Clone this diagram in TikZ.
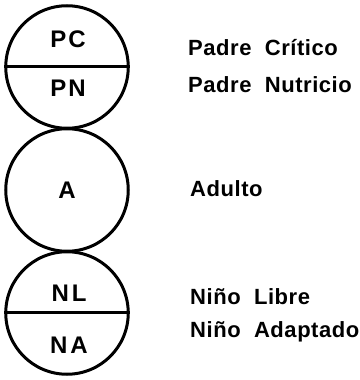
\documentclass[tikz,border=0pt]{standalone}
\usepackage{fontspec}
\setmainfont{Liberation Sans}[LetterSpace=2.5]
\usepackage{tikz}

\begin{document}
\begin{tikzpicture}[x=1pt,y=1pt,
    ring/.style={circle,draw,line width=3pt,minimum size=122.5pt,inner sep=0pt},
    tag/.style={anchor=base,font=\fontsize{24}{28}\selectfont\bfseries,inner sep=0pt},
    legend/.style={anchor=base west,font=\fontsize{22}{26}\selectfont\bfseries,inner sep=0pt}]
    \useasboundingbox (0,0) rectangle (359,380);
    \node[ring] (padre) at (67,313) {};
    \node[ring] (adulto) at (67,190) {};
    \node[ring] (nino) at (67,67) {};
    \draw[line width=3pt] (padre.west) -- (padre.east);
    \draw[line width=3pt] (nino.west) -- (nino.east);
    \node[tag] (pc) at (68,332) {P\kern2pt C};
    \node[tag] (pn) at (68,283) {P\kern2pt N};
    \node[tag] (a) at (67,181) {A};
    \node[tag] (nl) at (69,78) {N\kern3pt L};
    \node[tag] (na) at (69,27) {N\kern3pt A};
    \node[legend] (critico) at (188,324) {Padre~~Crítico};
    \node[legend] (nutricio) at (188,287) {Padre~~Nutricio};
    \node[legend] (adulto-txt) at (190,183) {Adulto};
    \node[legend] (libre) at (190,75) {Niño~~Libre};
    \node[legend] (adaptado) at (190,42) {Niño~~Adaptado};
  \end{tikzpicture}
\end{document}
